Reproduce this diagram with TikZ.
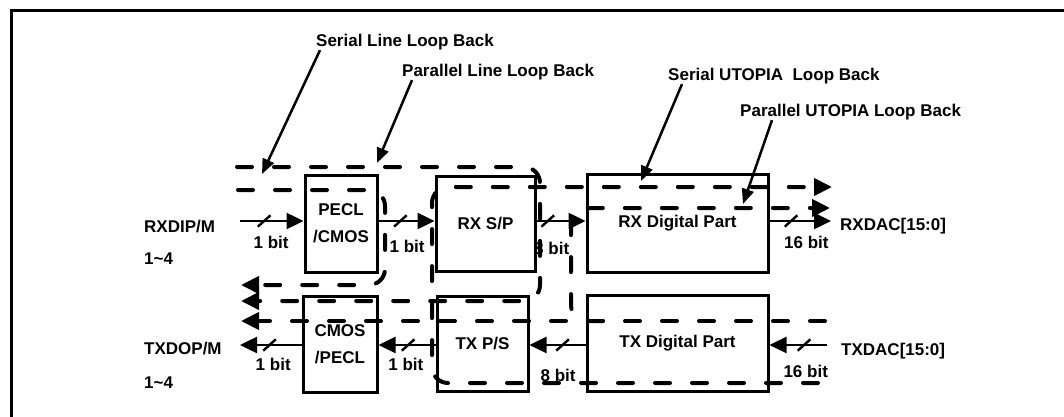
\documentclass[tikz,border=0pt]{standalone}
\usepackage{fontspec}
\setmainfont{Liberation Sans}
\usetikzlibrary{arrows.meta,positioning}

\begin{document}
\begin{tikzpicture}[x=1pt,y=-1pt,
    every node/.style={font=\fontsize{17}{27}\selectfont\bfseries,inner sep=0pt},
    blk/.style 2 args={draw,line width=3pt,minimum width=#1,minimum height=#2,align=center},
    sig/.style={line width=2.5pt,-{Triangle[length=17pt,width=16pt]}},
    bitmark/.style={fill,minimum width=2.4pt,minimum height=17pt,rotate=-48},
    lpb/.style={line width=4pt,line cap=round,dash pattern=on 15pt off 22pt,
        rounded corners=16pt,-{Triangle[length=18pt,width=17pt]}},
    ptr/.style={line width=2.5pt,-{Triangle[length=15pt,width=12pt]}}]
\useasboundingbox[fill=white] (0,0) rectangle (1064,417);
\draw[line width=3pt] (11,420) -- (11,11) -- (1068,11);

\node[blk={72pt}{97pt}] (pecl) at (341,223.5) {PECL\\/CMOS};
\node[blk={99pt}{95pt}] (rxsp) at (485.5,223.5) {RX S/P};
\node[blk={181pt}{98pt}] (rxd) at (677.5,223) {RX Digital Part};
\node[blk={74pt}{96pt}] (cmos) at (340,344) {CMOS\\/PECL};
\node[blk={91pt}{95pt}] (txps) at (482.5,343.5) {TX P/S};
\node[blk={181pt}{96pt}] (txd) at (677.5,343) {TX Digital Part};

\node[anchor=west] (rxin) at (144,227) {RXDIP/M};
\node[anchor=west] (rxnum) at (144,259) {1\textasciitilde4};
\node[anchor=west] (txout) at (144,349) {TXDOP/M};
\node[anchor=west] (txnum) at (144,383) {1\textasciitilde4};
\node[anchor=west] (rxdac) at (840,226) {RXDAC[15:0]};
\node[anchor=west] (txdac) at (841,351) {TXDAC[15:0]};

\coordinate (rxa) at (240,221);
\coordinate (rxb) at (831,221);
\coordinate (txa) at (240,345);
\coordinate (txb) at (827,345);

\draw[sig] (rxa) -- node[bitmark,pos=.38]{} node[pos=.49,below=14pt]{1 bit} (rxa -| pecl.west);
\draw[sig] (pecl.east |- rxa) -- node[bitmark,pos=.39]{} node[pos=.51,below=18pt]{1 bit} (rxsp.west |- rxa);
\draw[sig] (rxsp.east |- rxa) -- node[bitmark,pos=.23]{} node[pos=.31,below=20pt]{8 bit} (rxd.west |- rxa);
\draw[sig] (rxd.east |- rxa) -- node[bitmark,pos=.35]{} node[pos=.6,below=14pt]{16 bit} (rxb);
\draw[sig] (txb) -- node[bitmark,pos=.4]{} node[pos=.37,below=19pt]{16 bit} (txd.east |- txb);
\draw[sig] (txd.west |- txb) -- node[bitmark,pos=.41]{} node[pos=.49,below=23pt]{8 bit} (txps.east |- txb);
\draw[sig] (txps.west |- txb) -- node[bitmark,pos=.48]{} node[pos=.52,below=12pt]{1 bit} (cmos.east |- txb);
\draw[sig] (cmos.west |- txb) -- node[bitmark,pos=.52]{} node[pos=.46,below=12pt]{1 bit} (txa);

\coordinate (pll0) at (237,167);
\coordinate (pll1) at (241,301);
\coordinate (sll0) at (238,190);
\coordinate (sll1) at (241,285);
\coordinate (sul0) at (818,383);
\coordinate (sul1) at (832,187);
\coordinate (pul0) at (603,321);
\coordinate (pul1) at (830,208);
\coordinate (tx0) at (825,321);
\coordinate (tx1) at (241,321);
\draw[lpb] (pll0) -- (540,167) -- (540,301) -- (pll1);
\draw[lpb] (sll0) -- (385,190) -- (385,285) -- (sll1);
\draw[lpb] (sul0) -- (432,383) -- (432,187) -- (sul1);
\draw[lpb] (tx0) -- (tx1);
\draw[lpb] (pul0) -- (571,321) -- (571,208) -- (pul1);

\node[anchor=west] (sllt) at (316,42) {Serial Line Loop Back};
\node[anchor=west] (pllt) at (402,72) {Parallel Line Loop Back};
\node[anchor=west] (sult) at (668,76) {Serial UTOPIA~ Loop Back};
\node[anchor=west] (pult) at (740,112) {Parallel UTOPIA Loop Back};
\coordinate (sllp) at (262,174);
\coordinate (pllp) at (377,163);
\coordinate (sulp) at (641,181);
\coordinate (pulp) at (743,204);
\draw[ptr] ([xshift=4pt]sllt.south west) -- (sllp);
\draw[ptr] ([xshift=10pt]pllt.south west) -- (pllp);
\draw[ptr] ([xshift=14pt]sult.south west) -- (sulp);
\draw[ptr] ([xshift=32pt]pult.south west) -- (pulp);
\end{tikzpicture}
\end{document}
